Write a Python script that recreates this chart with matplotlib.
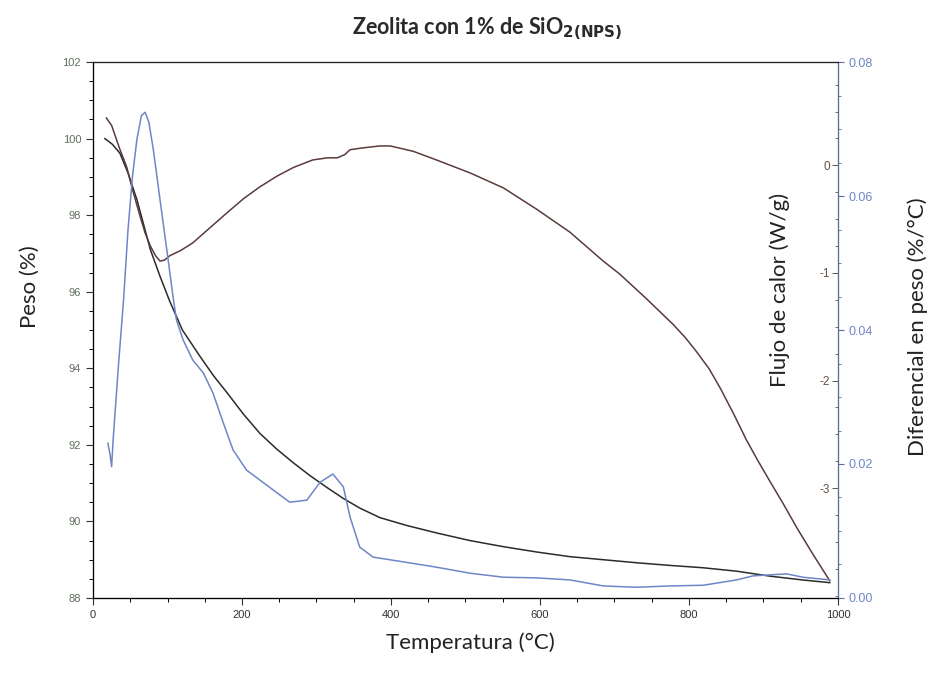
import matplotlib
matplotlib.use("Agg")
import matplotlib.pyplot as plt
from matplotlib.ticker import MultipleLocator

# Weight (%) vs temperature
temp_weight = [16, 26, 36, 47, 59, 68, 77, 90, 103, 120, 144, 162, 180, 202,
               224, 246, 269, 291, 313, 336, 358, 385, 420, 461, 506, 551, 596,
               640, 685, 730, 775, 819, 864, 909, 953, 989]
weight = [100.0, 99.85, 99.62, 99.1, 98.4, 97.75, 97.1, 96.4, 95.75, 95.0,
          94.3, 93.8, 93.36, 92.8, 92.3, 91.9, 91.53, 91.2, 90.9, 90.6, 90.35,
          90.1, 89.9, 89.7, 89.5, 89.34, 89.2, 89.08, 89.0, 88.92, 88.85,
          88.79, 88.7, 88.57, 88.47, 88.4]

# Heat flow (W/g) vs temperature
temp_heat = [18, 25, 30, 36, 45, 54, 63, 70, 77, 84, 90, 96, 103, 118, 134,
             157, 180, 202, 224, 247, 269, 295, 315, 328, 338, 345, 360, 372,
             385, 399, 430, 461, 506, 551, 596, 640, 685, 707, 743, 779, 795,
             810, 827, 842, 860, 877, 893, 909, 927, 945, 967, 989]
heat_flow = [0.44, 0.37, 0.27, 0.15, -0.01, -0.25, -0.47, -0.63, -0.75, -0.84,
             -0.89, -0.88, -0.84, -0.79, -0.72, -0.58, -0.44, -0.31, -0.20,
             -0.10, -0.02, 0.05, 0.07, 0.07, 0.10, 0.145, 0.16, 0.17, 0.18,
             0.18, 0.13, 0.05, -0.07, -0.21, -0.41, -0.62, -0.89, -1.01, -1.24,
             -1.48, -1.60, -1.73, -1.89, -2.07, -2.31, -2.55, -2.75, -2.94,
             -3.15, -3.37, -3.62, -3.86]

# Weight derivative (%/°C) vs temperature
temp_deriv = [20, 23, 25, 27, 34, 41, 47, 53, 59, 65, 70, 75, 81, 90, 99, 108,
              112, 121, 134, 148, 161, 175, 188, 206, 224, 247, 264, 287, 305,
              322, 336, 345, 358, 376, 416, 461, 506, 551, 596, 640, 685, 730,
              774, 819, 864, 886, 931, 953, 989]
deriv = [0.0231, 0.0213, 0.0196, 0.0236, 0.0345, 0.0445, 0.055, 0.063, 0.0685,
         0.0720, 0.0725, 0.071, 0.0669, 0.0594, 0.052, 0.0445, 0.0415, 0.0385,
         0.0355, 0.0336, 0.0306, 0.0261, 0.0221, 0.0191, 0.0176, 0.0157,
         0.0143, 0.0146, 0.0173, 0.0185, 0.0166, 0.0121, 0.0076, 0.0061,
         0.0054, 0.0046, 0.0037, 0.0031, 0.0030, 0.0027, 0.0018, 0.0016,
         0.0018, 0.0019, 0.0027, 0.0033, 0.0036, 0.0031, 0.0027]

x_ticks = [0, 200, 400, 600, 800, 1000]
weight_ticks = [88, 90, 92, 94, 96, 98, 100, 102]
heat_ticks = [0, -1, -2, -3]
deriv_ticks = [0.00, 0.02, 0.04, 0.06, 0.08]

c_weight = "#2b2b2b"
c_heat = "#5a3c3c"
c_deriv = "#6f86c6"
c_wlab = "#5f6f5f"
c_hlab = "#6a5040"

label_font = ["Lato", "DejaVu Sans"]
tick_font = "Liberation Sans"

fig = plt.figure(figsize=(9.32, 6.77), dpi=100)
ax = fig.add_axes([0.0998, 0.1167, 0.7993, 0.7917])
ax2 = ax.twinx()
ax3 = ax.twinx()

ax.plot(temp_weight, weight, color=c_weight, lw=1.1)
ax2.plot(temp_heat, heat_flow, color=c_heat, lw=1.1)
ax3.plot(temp_deriv, deriv, color=c_deriv, lw=1.1)

ax.set_xlim(0, 1000)
ax.set_ylim(88, 102)
ax2.set_ylim(-4.02, 0.96)
ax3.set_ylim(0, 0.08)

ax.set_xticks(x_ticks)
ax.xaxis.set_minor_locator(MultipleLocator(50))
ax.set_yticks(weight_ticks)
ax.yaxis.set_minor_locator(MultipleLocator(0.5))
ax.tick_params(axis="both", which="major", labelsize=8, length=5, width=0.8,
               colors="#333333")
ax.tick_params(axis="y", labelcolor=c_wlab)
ax.tick_params(axis="both", which="minor", length=3, width=0.7)
for lab in ax.get_xticklabels() + ax.get_yticklabels():
    lab.set_fontfamily(tick_font)

# Heat-flow scale: ticks and labels sit just inside the right spine
ax2.set_yticks(heat_ticks)
ax2.set_yticklabels([str(v) for v in heat_ticks])
ax2.yaxis.set_minor_locator(MultipleLocator(0.25))
ax2.tick_params(axis="y", which="major", direction="in", length=4, width=0.7,
                pad=-6, labelsize=8.5, labelcolor=c_hlab, color="#555555")
ax2.tick_params(axis="y", which="minor", direction="in", length=2.5, width=0.6,
                color="#555555")
for lab in ax2.get_yticklabels():
    lab.set_horizontalalignment("right")
    lab.set_fontfamily(tick_font)
ax2.spines["right"].set_visible(False)

# Derivative scale: outward ticks on the right spine
ax3.set_yticks(deriv_ticks)
ax3.set_yticklabels([f"{v:.2f}" for v in deriv_ticks])
ax3.yaxis.set_minor_locator(MultipleLocator(0.005))
ax3.tick_params(axis="y", which="major", direction="out", length=4, width=0.8,
                labelsize=9, labelcolor=c_deriv, color="#5b6c9a")
ax3.tick_params(axis="y", which="minor", direction="out", length=2, width=0.6,
                color="#5b6c9a")
for lab in ax3.get_yticklabels():
    lab.set_fontfamily(tick_font)
ax3.spines["right"].set_color("#5b6c9a")

for a in (ax, ax2, ax3):
    a.spines["top"].set_color("#222222")
    a.patch.set_visible(False)
ax.spines["left"].set_color("#222222")
ax.spines["bottom"].set_color("#222222")

fig.text(0.523, 0.957, r"Zeolita con 1% de SiO$_{\mathbf{2(NPS)}}$",
         ha="center", va="center", fontsize=15.5, fontweight="bold",
         family=label_font, color="#2a2a2a")
fig.text(0.505, 0.050, "Temperatura (°C)", ha="center", va="center",
         fontsize=16, family=label_font, color="#222222")
fig.text(0.032, 0.576, "Peso (%)", ha="center", va="center", rotation=90,
         fontsize=16, family=label_font, color="#222222")
fig.text(0.837, 0.572, "Flujo de calor (W/g)", ha="center", va="center",
         rotation=90, fontsize=16, family=label_font, color="#222222")
fig.text(0.985, 0.518, "Diferencial en peso (%/°C)", ha="center", va="center",
         rotation=90, fontsize=16, family=label_font, color="#222222")

fig.savefig("out.png", dpi=100)
